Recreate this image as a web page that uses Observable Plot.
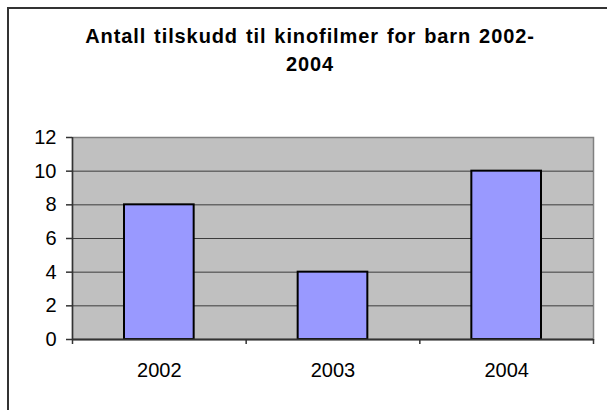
<!DOCTYPE html>
<html>
<head>
<meta charset="utf-8">
<script src="https://cdn.jsdelivr.net/npm/d3@7"></script>
<script src="https://cdn.jsdelivr.net/npm/@observablehq/plot@0.6"></script>
<style>
  html, body { margin: 0; padding: 0; background: #fff; }
  #wrap { position: relative; width: 607px; height: 410px; overflow: hidden; font-family: Arial, "Liberation Sans", sans-serif; }
  #frame { position: absolute; left: 7px; top: 7px; width: 700px; height: 500px; border-left: 2px solid #333; border-top: 2px solid #333; box-sizing: border-box; }
  #title { position: absolute; left: 10px; top: 22px; width: 600px; text-align: center; font-weight: bold; font-size: 20px; line-height: 28px; letter-spacing: 0.9px; word-spacing: 1.5px; color: #000; }
  #chart { position: absolute; left: 0; top: 0; }
</style>
</head>
<body>
<div id="wrap">
  <div id="chart"></div>
  <div id="frame"></div>
  <div id="title">Antall tilskudd til kinofilmer for barn 2002-<br>2004</div>
</div>
<script>
const years = ["2002", "2003", "2004"];
const counts = [8, 4, 10];
const yTicks = [0, 2, 4, 6, 8, 10, 12];
const gridValues = [2, 4, 6, 8, 10];

const data = years.map((y, i) => ({year: y, idx: i, value: counts[i]}));
const boundaries = d3.range(years.length + 1);
const centers = years.map((_, i) => i + 0.5);

const chart = Plot.plot({
  width: 607,
  height: 410,
  marginLeft: 72,
  marginRight: 14,
  marginTop: 137,
  marginBottom: 71,
  style: {fontFamily: 'Arial, "Liberation Sans", sans-serif', fontSize: "20px", color: "#000", background: "transparent", overflow: "visible"},
  x: {domain: [0, years.length], axis: null},
  y: {domain: [0, 12], axis: null},
  marks: [
    Plot.frame({fill: "#c0c0c0", stroke: "#808080", strokeWidth: 1.5}),
    Plot.ruleY(gridValues, {stroke: "#3c3c3c", strokeWidth: 1}),
    Plot.rectY(data, {x1: d => d.idx, x2: d => d.idx + 1, y: "value", insetLeft: 52, insetRight: 52, fill: "#9999ff", stroke: "#000", strokeWidth: 2}),
    Plot.ruleX([0], {stroke: "#333", strokeWidth: 1.5}),
    Plot.ruleY([0], {stroke: "#333", strokeWidth: 2}),
    Plot.axisY({ticks: yTicks, tickSize: 6, tickPadding: 10, tickFormat: d => String(d), label: null, stroke: "#333", strokeWidth: 1.5, fontSize: 20}),
    Plot.axisX({ticks: boundaries, tickSize: 5, tickFormat: () => "", label: null, stroke: "#333", strokeWidth: 1.5}),
    Plot.axisX({ticks: centers, tickSize: 0, tickPadding: 23, tickFormat: (d) => years[Math.floor(d)], label: null, fontSize: 20})
  ]
});
document.getElementById("chart").appendChild(chart);
</script>
</body>
</html>
